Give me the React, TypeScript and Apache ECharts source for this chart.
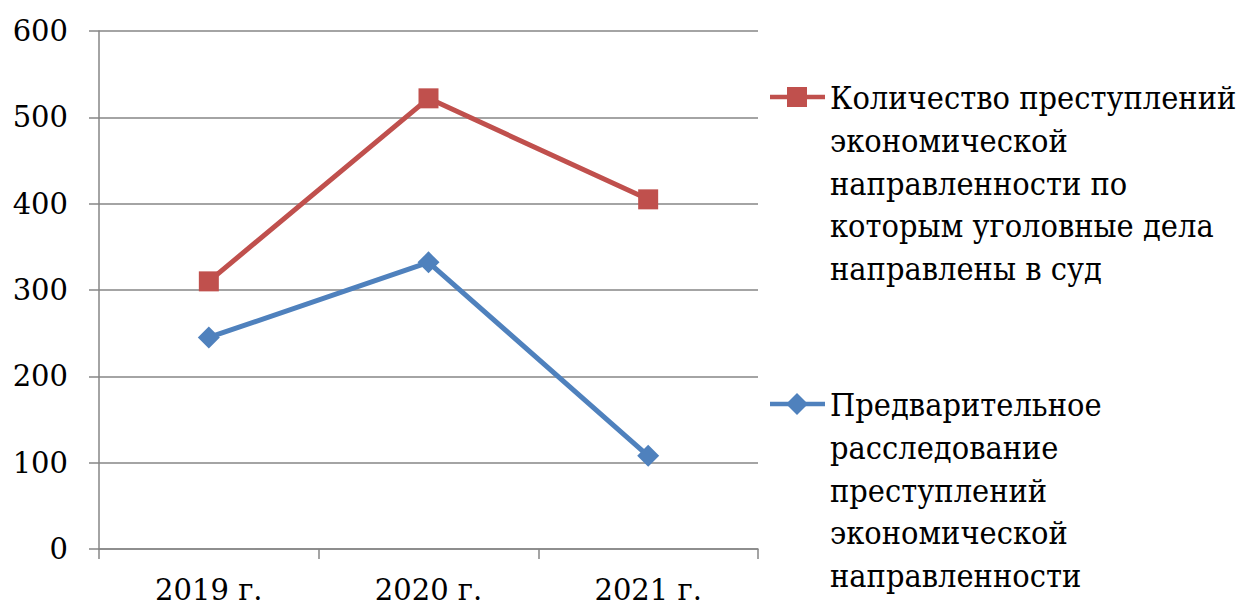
import React, { useEffect, useRef } from "react";
import * as echarts from "echarts";

const categories = ["2019 г.", "2020 г.", "2021 г."];
const seriesNames = [
  "Количество преступлений\nэкономической\nнаправленности по\nкоторым уголовные дела\nнаправлены в суд",
  "Предварительное\nрасследование\nпреступлений\nэкономической\nнаправленности",
];
const courtCases = [310, 522, 405];
const investigations = [245, 332, 108];
const yTicks = { min: 0, max: 600, interval: 100 };

const RED = "#C0504D";
const BLUE = "#4F81BD";
const FONT = "DejaVu Serif";

export default function App() {
  const ref = useRef<HTMLDivElement>(null);
  useEffect(() => {
    if (!ref.current) return;
    const chart = echarts.init(ref.current, null, { renderer: "svg" });
    const legendItem = (y: number, color: string, symbol: "rect" | "diamond", text: string) => [
      {
        type: "line",
        shape: { x1: 770, y1: y, x2: 825, y2: y },
        style: { stroke: color, lineWidth: 4.5 },
      },
      symbol === "rect"
        ? { type: "rect", shape: { x: 787, y: y - 10, width: 20, height: 20 }, style: { fill: color } }
        : {
            type: "polygon",
            shape: { points: [[797, y - 11], [808, y], [797, y + 11], [786, y]] },
            style: { fill: color },
          },
      {
        type: "text",
        x: 830,
        y: y - 21,
        scaleY: 1.12,
        style: {
          text,
          fontFamily: FONT,
          fontSize: 29,
          fill: "#000",
          lineHeight: 38.2,
          verticalAlign: "top",
        },
      },
    ];
    chart.setOption({
      animation: false,
      backgroundColor: "#fff",
      textStyle: { fontFamily: FONT },
      grid: { left: 99, right: 490, top: 31, bottom: 60, containLabel: false },
      xAxis: {
        type: "category",
        data: categories,
        boundaryGap: true,
        axisLine: { show: true, lineStyle: { color: "#868686", width: 1.5 } },
        axisTick: { show: true, length: 10, alignWithLabel: false, lineStyle: { color: "#868686", width: 1.5 } },
        axisLabel: { color: "#000", fontFamily: FONT, fontSize: 29, margin: 26 },
      },
      yAxis: {
        type: "value",
        min: yTicks.min,
        max: yTicks.max,
        interval: yTicks.interval,
        axisLine: { show: true, lineStyle: { color: "#868686", width: 1.5 } },
        axisTick: { show: true, length: 10, lineStyle: { color: "#868686", width: 1.5 } },
        splitLine: { show: true, lineStyle: { color: "#868686", width: 1.5 } },
        axisLabel: { color: "#000", fontFamily: FONT, fontSize: 29, margin: 31 },
      },
      series: [
        {
          name: seriesNames[0],
          type: "line",
          data: courtCases,
          symbol: "rect",
          symbolSize: 20,
          lineStyle: { color: RED, width: 5 },
          itemStyle: { color: RED },
        },
        {
          name: seriesNames[1],
          type: "line",
          data: investigations,
          symbol: "diamond",
          symbolSize: [22, 22],
          lineStyle: { color: BLUE, width: 5 },
          itemStyle: { color: BLUE },
        },
      ],
      graphic: [
        ...legendItem(97, RED, "rect", seriesNames[0]),
        ...legendItem(404, BLUE, "diamond", seriesNames[1]),
      ],
    });
    return () => chart.dispose();
  }, []);
  return <div ref={ref} style={{ width: 1248, height: 609, position: "absolute", left: 0, top: 0 }} />;
}
